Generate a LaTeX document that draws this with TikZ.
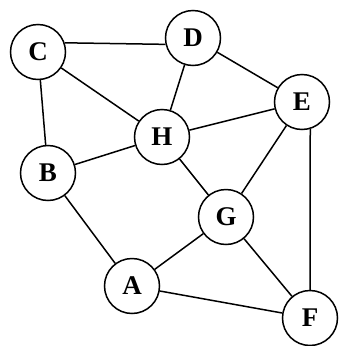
\documentclass[tikz,border=0pt]{standalone}
\usepackage{fontspec}
\setmainfont{Liberation Serif}
\begin{document}
\begin{tikzpicture}[x=1pt,y=-1pt,
  vtx/.style={circle,draw,line width=1.5pt,minimum size=55pt,inner sep=0pt,fill=white,font=\fontsize{27}{27}\selectfont\bfseries},
  edge/.style={line width=1.5pt}]
\useasboundingbox (0,0) rectangle (338,346);
\node[vtx] (C) at (38,52) {C};
\node[vtx] (D) at (193,38) {D};
\node[vtx] (E) at (302,102) {E};
\node[vtx] (H) at (162,137) {H};
\node[vtx] (B) at (48,173) {B};
\node[vtx] (G) at (226,217) {G};
\node[vtx] (A) at (132,286) {A};
\node[vtx] (F) at (310,318) {F};
\draw[edge] (C.19) -- (D.193);
\draw[edge] (C) -- (H);
\draw[edge] (C) -- (B);
\draw[edge] (D) -- (H);
\draw[edge] (D) -- (E);
\draw[edge] (E) -- (H);
\draw[edge] (E) -- (G);
\draw[edge] (E.-73) -- (F.north);
\draw[edge] (H) -- (B);
\draw[edge] (H) -- (G);
\draw[edge] (B) -- (A);
\draw[edge] (G) -- (A);
\draw[edge] (G) -- (F);
\draw[edge] (A) -- (F);
\end{tikzpicture}
\end{document}
